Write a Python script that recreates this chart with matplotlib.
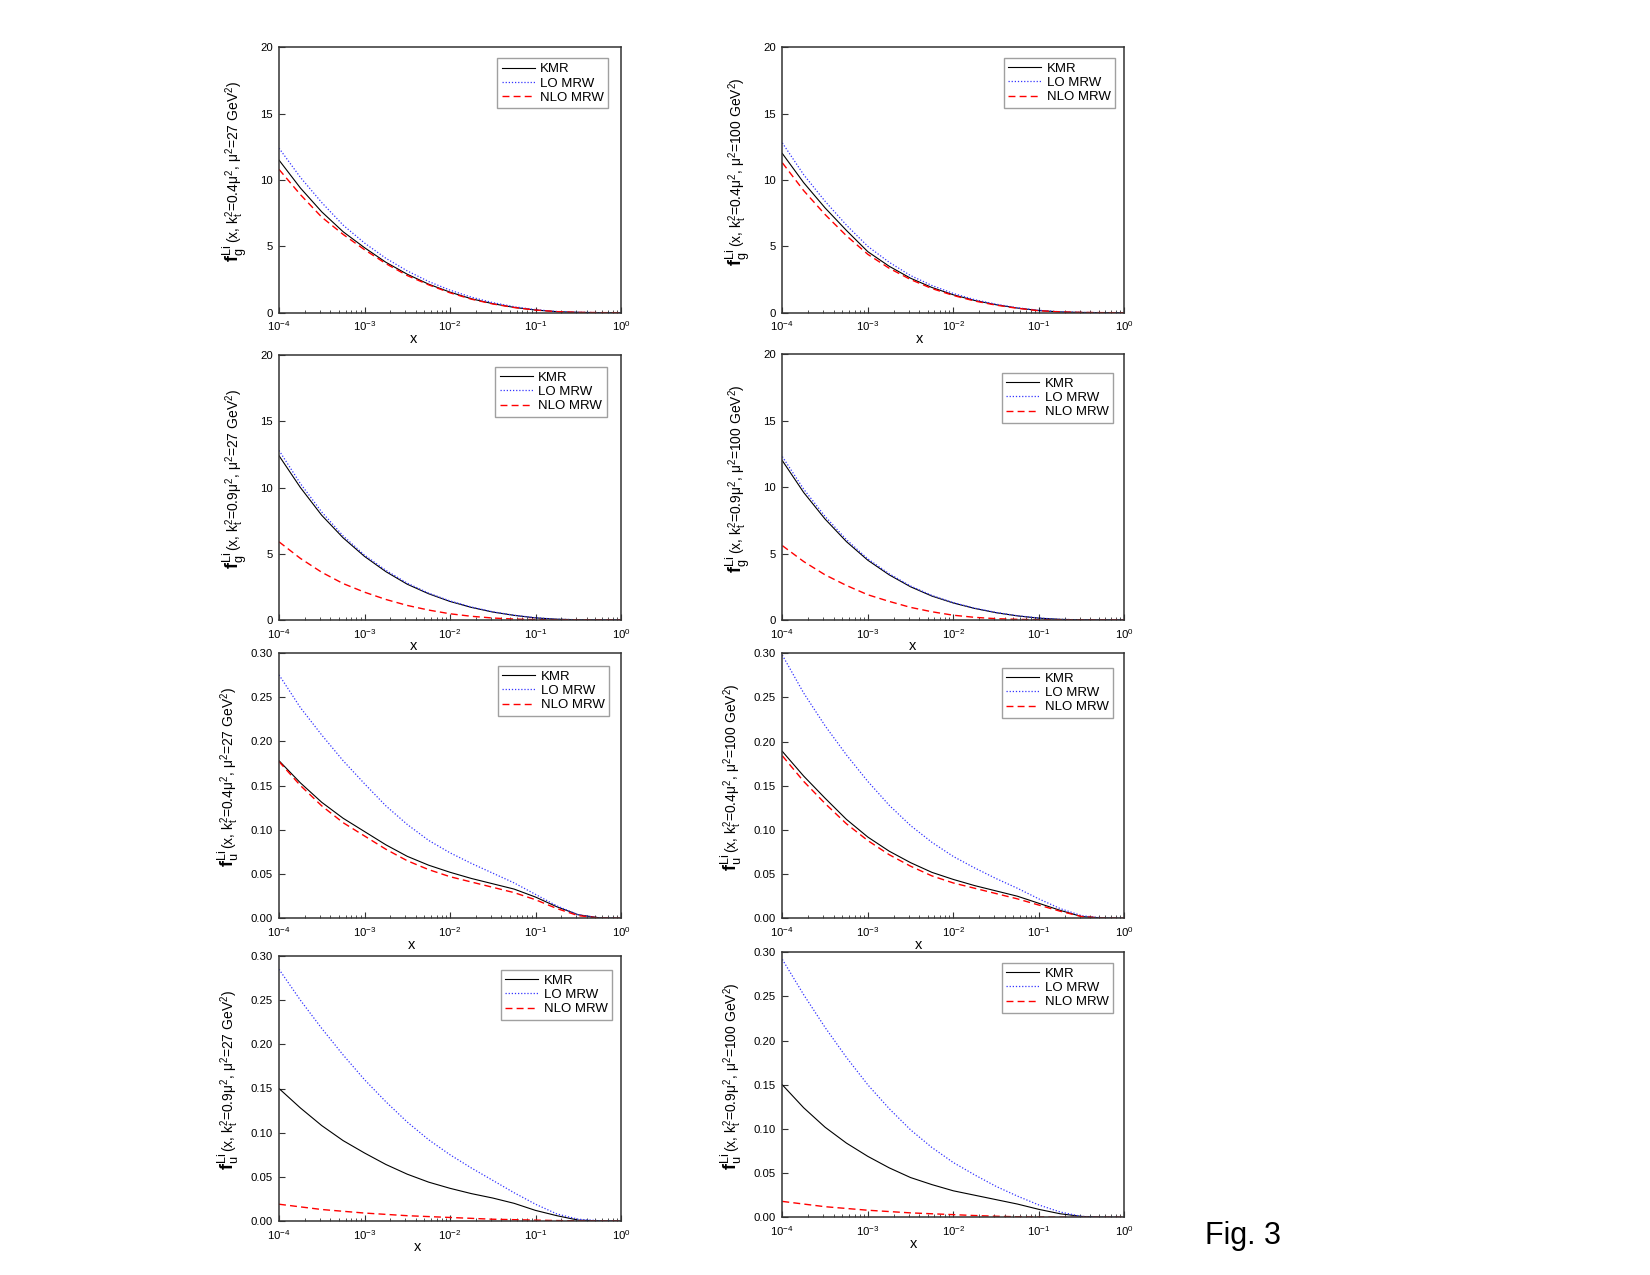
import numpy as np
import matplotlib
matplotlib.use('Agg')
import matplotlib.pyplot as plt
from matplotlib.ticker import LogLocator, NullFormatter, FixedLocator

plt.rcParams['font.family'] = ['Liberation Sans', 'DejaVu Sans']
plt.rcParams['mathtext.fontset'] = 'custom'
plt.rcParams['mathtext.rm'] = 'Liberation Sans'
plt.rcParams['mathtext.it'] = 'Liberation Sans:italic'
plt.rcParams['mathtext.bf'] = 'Liberation Sans:bold'

# log10(x) sampling points
logx = [-4, -3.75, -3.5, -3.25, -3, -2.75, -2.5, -2.25, -2, -1.75, -1.5, -1.25, -1, -0.75, -0.5, -0.25, 0]

#### gluon, kt2=0.4 mu2, mu2=27
g04_27_kmr = [11.5, 9.4, 7.6, 6.1, 4.9, 3.8, 2.9, 2.15, 1.55, 1.05, 0.68, 0.40, 0.20, 0.08, 0.025, 0.005, 0]
g04_27_lo  = [12.4, 10.2, 8.3, 6.6, 5.25, 4.1, 3.15, 2.35, 1.7, 1.17, 0.76, 0.45, 0.23, 0.09, 0.03, 0.005, 0]
g04_27_nlo = [10.8, 8.9, 7.2, 5.9, 4.75, 3.7, 2.8, 2.1, 1.5, 1.02, 0.66, 0.39, 0.20, 0.08, 0.025, 0.005, 0]
#### gluon, kt2=0.4 mu2, mu2=100
g04_100_kmr = [12.0, 9.8, 7.9, 6.2, 4.6, 3.5, 2.6, 1.9, 1.35, 0.92, 0.6, 0.35, 0.16, 0.06, 0.02, 0.004, 0]
g04_100_lo  = [12.8, 10.4, 8.4, 6.6, 5.0, 3.8, 2.8, 2.05, 1.45, 0.98, 0.64, 0.37, 0.18, 0.07, 0.02, 0.004, 0]
g04_100_nlo = [11.3, 9.2, 7.4, 5.8, 4.4, 3.35, 2.5, 1.82, 1.3, 0.88, 0.57, 0.33, 0.15, 0.06, 0.02, 0.004, 0]
#### gluon, kt2=0.9 mu2, mu2=27
g09_27_kmr = [12.4, 10.0, 7.9, 6.2, 4.8, 3.65, 2.7, 1.98, 1.4, 0.95, 0.6, 0.35, 0.16, 0.06, 0.02, 0.004, 0]
g09_27_lo  = [12.8, 10.3, 8.15, 6.35, 4.9, 3.75, 2.78, 2.03, 1.44, 0.98, 0.62, 0.36, 0.17, 0.06, 0.02, 0.004, 0]
g09_27_nlo = [5.9, 4.65, 3.6, 2.75, 2.1, 1.55, 1.1, 0.75, 0.47, 0.28, 0.15, 0.07, 0.03, 0.01, 0.003, 0, 0]
#### gluon, kt2=0.9 mu2, mu2=100
g09_100_kmr = [12.0, 9.6, 7.6, 5.9, 4.5, 3.4, 2.5, 1.8, 1.28, 0.87, 0.55, 0.31, 0.14, 0.05, 0.015, 0.003, 0]
g09_100_lo  = [12.3, 9.85, 7.8, 6.05, 4.6, 3.48, 2.56, 1.85, 1.31, 0.89, 0.57, 0.32, 0.15, 0.05, 0.015, 0.003, 0]
g09_100_nlo = [5.6, 4.4, 3.4, 2.6, 1.9, 1.4, 0.95, 0.62, 0.36, 0.2, 0.1, 0.05, 0.02, 0.006, 0.002, 0, 0]
#### u quark, kt2=0.4 mu2, mu2=27
u04_27_kmr = [0.178, 0.153, 0.131, 0.113, 0.098, 0.083, 0.070, 0.060, 0.052, 0.045, 0.039, 0.033, 0.024, 0.013, 0.004, 0.0005, 0]
u04_27_lo  = [0.275, 0.238, 0.207, 0.178, 0.152, 0.127, 0.106, 0.088, 0.074, 0.062, 0.051, 0.040, 0.027, 0.014, 0.004, 0.0005, 0]
u04_27_nlo = [0.177, 0.150, 0.127, 0.108, 0.093, 0.078, 0.065, 0.055, 0.047, 0.041, 0.035, 0.029, 0.021, 0.011, 0.003, 0.0003, 0]
#### u quark, kt2=0.4 mu2, mu2=100
u04_100_kmr = [0.189, 0.161, 0.136, 0.112, 0.092, 0.076, 0.063, 0.052, 0.044, 0.037, 0.031, 0.025, 0.017, 0.009, 0.002, 0.0003, 0]
u04_100_lo  = [0.298, 0.255, 0.218, 0.185, 0.155, 0.128, 0.105, 0.086, 0.070, 0.057, 0.045, 0.034, 0.022, 0.011, 0.003, 0.0003, 0]
u04_100_nlo = [0.184, 0.155, 0.130, 0.107, 0.088, 0.072, 0.059, 0.048, 0.040, 0.034, 0.028, 0.022, 0.015, 0.008, 0.002, 0.0002, 0]
#### u quark, kt2=0.9 mu2, mu2=27
u09_27_kmr = [0.150, 0.128, 0.108, 0.091, 0.077, 0.064, 0.053, 0.044, 0.037, 0.031, 0.026, 0.020, 0.012, 0.006, 0.001, 0.0002, 0]
u09_27_lo  = [0.285, 0.250, 0.218, 0.188, 0.160, 0.135, 0.112, 0.092, 0.075, 0.060, 0.046, 0.032, 0.019, 0.008, 0.002, 0.0003, 0]
u09_27_nlo = [0.019, 0.016, 0.013, 0.011, 0.009, 0.0075, 0.006, 0.005, 0.004, 0.003, 0.002, 0.0015, 0.001, 0.0005, 0.0002, 0, 0]
#### u quark, kt2=0.9 mu2, mu2=100
u09_100_kmr = [0.150, 0.124, 0.102, 0.084, 0.069, 0.056, 0.045, 0.037, 0.030, 0.025, 0.020, 0.015, 0.009, 0.004, 0.001, 0.0001, 0]
u09_100_lo  = [0.292, 0.252, 0.215, 0.181, 0.150, 0.123, 0.099, 0.079, 0.062, 0.048, 0.035, 0.024, 0.014, 0.006, 0.001, 0.0002, 0]
u09_100_nlo = [0.018, 0.015, 0.012, 0.010, 0.008, 0.0065, 0.005, 0.004, 0.003, 0.002, 0.0012, 0.0006, 0.0003, 0.0001, 0, 0, 0]

series_labels = ['KMR', 'LO MRW', 'NLO MRW']

panels = [
    # parton, kt factor, mu2, curves
    ('g', '0.4', '27',  (g04_27_kmr,  g04_27_lo,  g04_27_nlo)),
    ('g', '0.4', '100', (g04_100_kmr, g04_100_lo, g04_100_nlo)),
    ('g', '0.9', '27',  (g09_27_kmr,  g09_27_lo,  g09_27_nlo)),
    ('g', '0.9', '100', (g09_100_kmr, g09_100_lo, g09_100_nlo)),
    ('u', '0.4', '27',  (u04_27_kmr,  u04_27_lo,  u04_27_nlo)),
    ('u', '0.4', '100', (u04_100_kmr, u04_100_lo, u04_100_nlo)),
    ('u', '0.9', '27',  (u09_27_kmr,  u09_27_lo,  u09_27_nlo)),
    ('u', '0.9', '100', (u09_100_kmr, u09_100_lo, u09_100_nlo)),
]

# axes boxes in pixels (left, top, right, bottom) of a 1650x1275 canvas
W, H = 1650, 1275
boxes = [
    (279, 47.3, 621, 312.7), (782.3, 47.3, 1124.3, 312.7),
    (279, 355, 621, 620),    (782.3, 354.3, 1124.3, 620),
    (279, 652.7, 621, 918.3), (782.3, 653.3, 1124.3, 918.3),
    (279, 956, 621, 1221),   (782.3, 952.3, 1124.3, 1217.3),
]
legend_anchor = [(0.963, 0.958), (0.973, 0.960), (0.958, 0.955), (0.967, 0.930),
                 (0.965, 0.950), (0.967, 0.945), (0.974, 0.947), (0.967, 0.960)]
# the "x" title sits left of centre in every panel
xlabel_pos = [0.394, 0.401, 0.394, 0.380, 0.388, 0.398, 0.406, 0.383]

styles = [
    dict(color='black', lw=0.8, ls='-'),
    dict(color='#3333ff', lw=0.9, ls=(0, (1, 1.5))),
    dict(color='red', lw=1.0, ls=(0, (5, 3))),
]

fig = plt.figure(figsize=(W / 100, H / 100), dpi=100)
renderer = fig.canvas.get_renderer()
x = 10.0 ** np.array(logx)

for i, (parton, kfac, mu2, curves) in enumerate(panels):
    l, t, r, b = boxes[i]
    ax = fig.add_axes([l / W, 1 - b / H, (r - l) / W, (b - t) / H])
    for y, lab, st in zip(curves, series_labels, styles):
        ax.plot(x, y, label=lab, **st)
    ax.set_xscale('log')
    ax.set_xlim(1e-4, 1)
    ax.xaxis.set_major_locator(LogLocator(base=10, numticks=10))
    ax.xaxis.set_minor_locator(LogLocator(base=10, subs=np.arange(2, 10), numticks=20))
    ax.xaxis.set_minor_formatter(NullFormatter())
    if parton == 'g':
        ax.set_ylim(0, 20)
        ax.yaxis.set_major_locator(FixedLocator([0, 5, 10, 15, 20]))
        ax.set_yticklabels(['0', '5', '10', '15', '20'])
        lab_x = -(40 / (r - l))
    else:
        ax.set_ylim(0, 0.30)
        yt = [0, 0.05, 0.10, 0.15, 0.20, 0.25, 0.30]
        ax.yaxis.set_major_locator(FixedLocator(yt))
        ax.set_yticklabels(['%.2f' % v for v in yt])
        lab_x = -(45 / (r - l))
    ax.tick_params(axis='both', which='major', direction='in', length=4, width=0.8,
                   color='#333333')
    ax.tick_params(axis='y', which='major', labelsize=8.2, pad=4.5)
    ax.tick_params(axis='x', which='major', labelsize=8.2, pad=5)
    ax.tick_params(axis='both', which='minor', direction='in', length=2, width=0.6, color='#333333')
    for sp in ax.spines.values():
        sp.set_linewidth(1.1)
        sp.set_color('#333333')
    ax.set_xlabel('x', fontsize=10.5, labelpad=-1)
    ax.xaxis.label.set_x(xlabel_pos[i])

    # y label: big bold f with indices, then the rest, sharing one baseline
    t1 = ax.text(lab_x, 0.0, r'$\mathbf{f}_{\rm ' + parton + r'}^{\rm Li}$', fontsize=13,
                 rotation=90, rotation_mode='anchor', ha='left', va='baseline',
                 transform=ax.transAxes)
    t2 = ax.text(lab_x, 0.0, r'(x, k$_{\rm t}^{2}$=' + kfac + r'μ$^{2}$, μ$^{2}$=' + mu2 +
                 r' GeV$^{2}$)', fontsize=10, rotation=90, rotation_mode='anchor',
                 ha='left', va='baseline', transform=ax.transAxes)
    h_ax = (b - t)
    L1 = t1.get_window_extent(renderer).height
    L2 = t2.get_window_extent(renderer).height
    y0 = 0.53 - (L1 + L2) / 2 / h_ax
    t1.set_position((lab_x, y0))
    t2.set_position((lab_x, y0 + (L1 + 1) / h_ax))

    leg = ax.legend(loc='upper right', bbox_to_anchor=legend_anchor[i], fontsize=9.5,
                    frameon=True, fancybox=False, handlelength=2.5, handletextpad=0.4,
                    labelspacing=0.15, borderpad=0.35, borderaxespad=0)
    leg.get_frame().set_edgecolor('#888888')
    leg.get_frame().set_linewidth(1.0)

fig.text(1205 / W, 1 - 1236 / H, 'Fig. 3', fontsize=22, ha='left', va='center')

plt.savefig('out.png', dpi=100)
